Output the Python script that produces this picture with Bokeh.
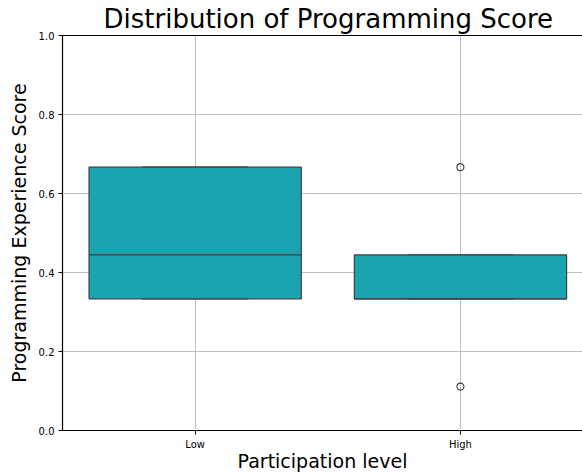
from bokeh.plotting import figure
from bokeh.models import Range1d, FixedTicker, LinearAxis, CustomJSTickFormatter
from bokeh.embed import file_html
from bokeh.resources import INLINE

# Box-plot summary per participation group
categories = ["Low", "High"]
q1 = [1/3, 1/3]
median = [4/9, 1/3]
q3 = [2/3, 4/9]
whisker_low = [1/3, 1/3]
whisker_high = [2/3, 4/9]
outlier_group = [1, 1]
outlier_value = [2/3, 1/9]
y_ticks = [0.0, 0.2, 0.4, 0.6, 0.8, 1.0]

FONT = "DejaVu Sans"
BOX_COLOR = "#1ba3b0"
EDGE = "#3f3f3f"

xs = list(range(len(categories)))

p = figure(width=582, height=474, output_backend="svg", toolbar_location=None,
           x_range=Range1d(-0.5, 1.46), y_range=Range1d(0, 1),
           min_border_left=62, min_border_right=0, min_border_top=0, min_border_bottom=0)

p.title.text = "Distribution of Programming Score"
p.title.text_font = FONT
p.title.text_font_size = "26px"
p.title.text_font_style = "normal"
p.title.align = "left"
p.title.offset = 41
p.title.standoff = 3
p.title.text_color = "black"

p.outline_line_color = None
p.background_fill_color = "white"
p.border_fill_color = "white"

# axes
p.xaxis.ticker = FixedTicker(ticks=xs)
p.xaxis.major_label_overrides = {i: c for i, c in enumerate(categories)}
p.yaxis.ticker = FixedTicker(ticks=y_ticks)
p.yaxis.formatter = CustomJSTickFormatter(code="return tick.toFixed(1);")
for ax in (p.xaxis, p.yaxis):
    ax.axis_line_color = "black"
    ax.axis_line_width = 1.2
    ax.major_tick_line_color = "black"
    ax.major_tick_out = 4
    ax.major_tick_in = 0
    ax.minor_tick_line_color = None
    ax.major_label_text_font = FONT
    ax.major_label_text_font_size = "10px"
    ax.major_label_text_color = "black"
    ax.axis_label_text_font = FONT
    ax.axis_label_text_font_size = "19px"
    ax.axis_label_text_font_style = "normal"
    ax.axis_label_text_color = "black"
p.xaxis.axis_label = "Participation level"
p.yaxis.axis_label = "Programming Experience Score"
p.xaxis.major_label_standoff = 4
p.xaxis.axis_label_standoff = -3
p.yaxis.major_label_standoff = 4
p.yaxis.axis_label_standoff = 6

# top spine
top = LinearAxis(ticker=FixedTicker(ticks=[]), axis_line_color="black", axis_line_width=1.2,
                 major_tick_line_color=None, minor_tick_line_color=None,
                 major_label_text_font_size="0px", major_label_standoff=0)
p.add_layout(top, "above")

p.xgrid.grid_line_color = "#b0b0b0"
p.ygrid.grid_line_color = "#b0b0b0"
p.xgrid.grid_line_width = 0.8
p.ygrid.grid_line_width = 0.8

box_w = 0.8
cap_w = 0.4

# whiskers and caps
p.segment(xs, q3, xs, whisker_high, line_color=EDGE, line_width=1.2)
p.segment(xs, q1, xs, whisker_low, line_color=EDGE, line_width=1.2)
p.segment([x - cap_w / 2 for x in xs], whisker_high, [x + cap_w / 2 for x in xs], whisker_high,
          line_color=EDGE, line_width=1.2)
p.segment([x - cap_w / 2 for x in xs], whisker_low, [x + cap_w / 2 for x in xs], whisker_low,
          line_color=EDGE, line_width=1.2)

# boxes
p.vbar(x=xs, width=box_w, bottom=q1, top=q3, fill_color=BOX_COLOR,
       line_color=EDGE, line_width=1.2)
# medians
p.segment([x - box_w / 2 for x in xs], median, [x + box_w / 2 for x in xs], median,
          line_color=EDGE, line_width=1.2)

# outliers
p.scatter(outlier_group, outlier_value, size=7, fill_color=None, line_color=EDGE,
          line_width=1.1, marker="circle")

open("out.html", "w").write(file_html(p, INLINE))
